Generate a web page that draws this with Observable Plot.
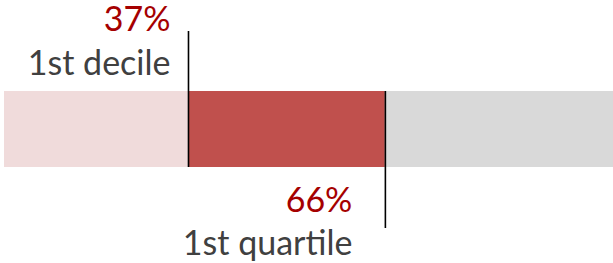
<!DOCTYPE html>
<html>
<head>
<meta charset="utf-8">
<script src="https://cdn.jsdelivr.net/npm/d3@7"></script>
<script src="https://cdn.jsdelivr.net/npm/@observablehq/plot@0.6"></script>
<style>
  html, body { margin: 0; padding: 0; background: #fff; }
  #chart svg { overflow: hidden; }
</style>
</head>
<body>
<div id="chart"></div>
<script>
// Data
const segmentNames = ["below 1st decile", "1st decile to 1st quartile", "above 1st quartile"];
const segmentStart = [0, 37, 66];
const segmentEnd = [37, 66, 100];
const markerValues = [37, 66];
const markerPercentLabels = ["37%", "66%"];
const markerNameLabels = ["1st decile", "1st quartile"];

// Styles / layout (not data)
const segmentColors = ["#F0DBDB", "#C0504D", "#D9D9D9"];
const barTop = 91, barBottom = 167;
const ruleTop = [31, 91], ruleBottom = [167, 228];
const pctY = [20, 201], nameY = [64, 244];
const labelDx = [-18, -33];
const font = "Lato, 'Open Sans', sans-serif";
const fs = 34;

const segments = segmentNames.map((n, i) => ({name: n, x1: segmentStart[i], x2: segmentEnd[i], color: segmentColors[i]}));
const markers = markerValues.map((v, i) => ({v, pct: markerPercentLabels[i], name: markerNameLabels[i], y1: ruleTop[i], y2: ruleBottom[i], py: pctY[i], ny: nameY[i], dx: labelDx[i]}));

const textMarks = markers.flatMap(m => [
  Plot.text([m], {x: "v", y: "py", text: "pct", textAnchor: "end", dx: m.dx, fill: "#A50000", fontSize: fs, fontFamily: font}),
  Plot.text([m], {x: "v", y: "ny", text: "name", textAnchor: "end", dx: m.dx, fill: "#404040", fontSize: fs, fontFamily: font})
]);

const chart = Plot.plot({
  width: 613,
  height: 263,
  marginLeft: 4,
  marginRight: 0,
  marginTop: 0,
  marginBottom: 0,
  x: {domain: [9.9, 99.6], axis: null},
  y: {domain: [0, 263], range: [0, 263], axis: null},
  style: {fontFamily: font, background: "#fff"},
  marks: [
    Plot.rectX(segments, {x1: "x1", x2: "x2", y1: barTop, y2: barBottom, fill: "color", clip: true}),
    Plot.ruleX(markers, {x: "v", y1: "y1", y2: "y2", stroke: "#000", strokeWidth: 1.6}),
    ...textMarks
  ]
});
document.getElementById("chart").appendChild(chart);
</script>
</body>
</html>
